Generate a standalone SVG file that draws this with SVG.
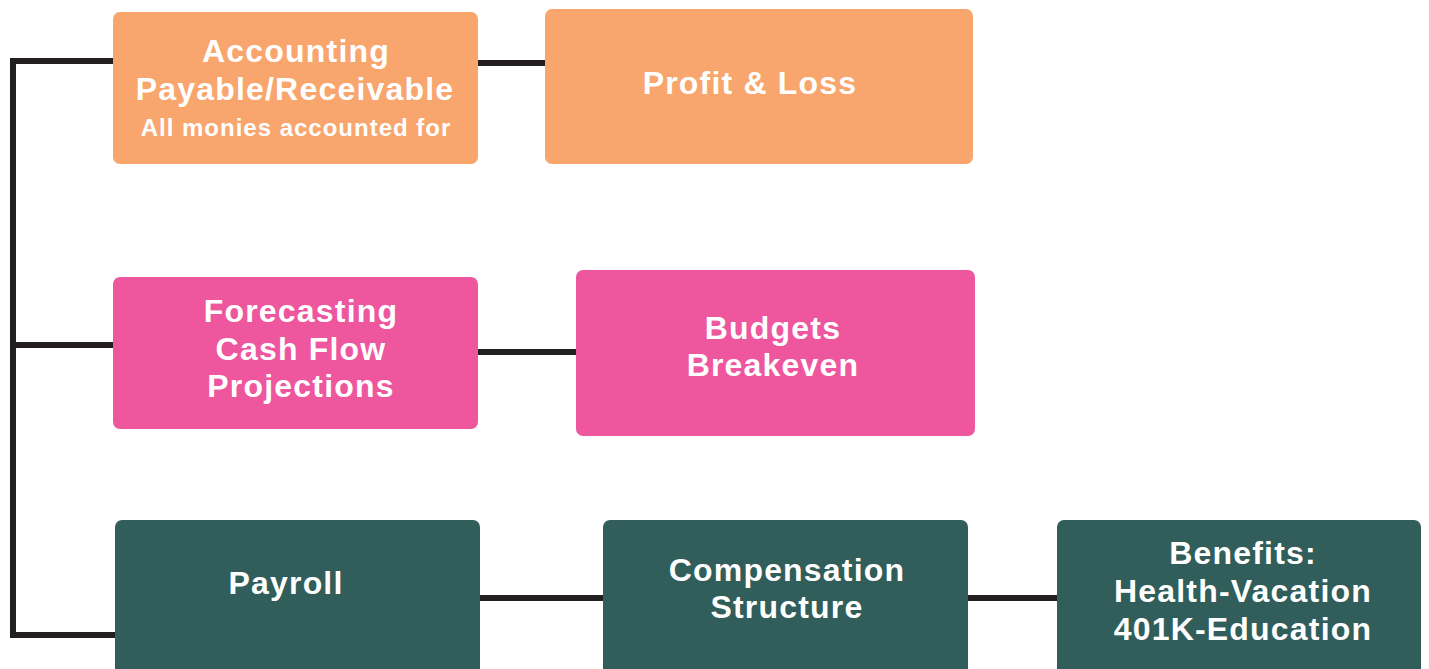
<svg xmlns="http://www.w3.org/2000/svg" width="1429" height="669" viewBox="0 0 1429 669">
<style>
.c{stroke:#231F20;stroke-width:6;fill:none}
.t{fill:#fff;font-family:"Liberation Sans",Arial,sans-serif;font-weight:700;font-size:32px;letter-spacing:1.2px;text-anchor:middle}
.s{font-size:24px;letter-spacing:1px}
.o{fill:#F8A56E}
.p{fill:#EE569E}
.g{fill:#315D5A}
</style>
<rect width="1429" height="669" fill="#fff"/>
<g id="connectors">
<polyline class="c" points="113,61 13,61 13,635 115,635"/>
<line class="c" x1="13" y1="345" x2="113" y2="345"/>
<line class="c" x1="477" y1="63" x2="545" y2="63"/>
<line class="c" x1="478" y1="352" x2="576" y2="352"/>
<line class="c" x1="480" y1="598" x2="603" y2="598"/>
<line class="c" x1="968" y1="598" x2="1057" y2="598"/>
</g>
<g id="accounting">
<rect class="o" x="113" y="12" width="365" height="152" rx="7"/>
<text class="t" x="296" y="62">Accounting</text>
<text class="t" x="295" y="100">Payable/Receivable</text>
<text class="t s" x="296" y="136">All monies accounted for</text>
</g>
<g id="profit">
<rect class="o" x="545" y="9" width="428" height="155" rx="7"/>
<text class="t" x="750" y="94">Profit &amp; Loss</text>
</g>
<g id="forecasting">
<rect class="p" x="113" y="277" width="365" height="152" rx="7"/>
<text class="t" x="301" y="322">Forecasting</text>
<text class="t" x="301" y="360">Cash Flow</text>
<text class="t" x="301" y="397">Projections</text>
</g>
<g id="budgets">
<rect class="p" x="576" y="270" width="399" height="166" rx="7"/>
<text class="t" x="773" y="339">Budgets</text>
<text class="t" x="773" y="376">Breakeven</text>
</g>
<g id="payroll">
<rect class="g" x="115" y="520" width="365" height="160" rx="7"/>
<text class="t" x="286" y="594">Payroll</text>
</g>
<g id="compensation">
<rect class="g" x="603" y="520" width="365" height="160" rx="7"/>
<text class="t" x="787" y="581">Compensation</text>
<text class="t" x="787" y="618">Structure</text>
</g>
<g id="benefits">
<rect class="g" x="1057" y="520" width="364" height="160" rx="7"/>
<text class="t" x="1243" y="564">Benefits:</text>
<text class="t" x="1243" y="602">Health-Vacation</text>
<text class="t" x="1243" y="640">401K-Education</text>
</g>
</svg>
